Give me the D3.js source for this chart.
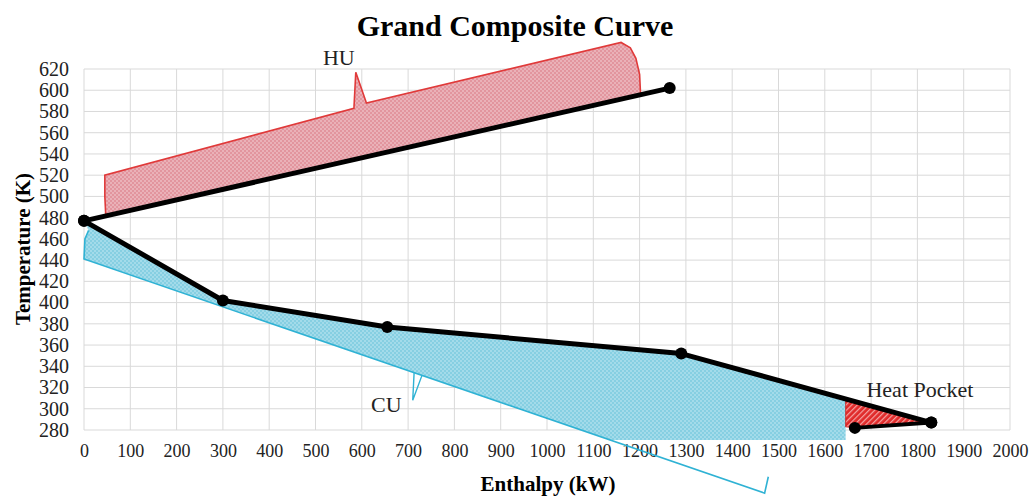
<!DOCTYPE html>
<html><head><meta charset="utf-8">
<script src="https://cdn.jsdelivr.net/npm/d3@7"></script>
<style>html,body{margin:0;padding:0;background:#fff;}svg{display:block;}</style>
</head><body>
<script>
// ---- data ----
const xTicks = [0,100,200,300,400,500,600,700,800,900,1000,1100,1200,1300,1400,1500,1600,1700,1800,1900,2000];
const yTicks = [280,300,320,340,360,380,400,420,440,460,480,500,520,540,560,580,600,620];
const gccEnthalpy = [0, 300, 655, 1290, 1830];
const gccTemp = [477, 402, 377, 352, 287];
const huEnthalpy = [0, 1265];
const huTemp = [477, 602];
const pocketEnthalpy = [1665, 1830];
const pocketTemp = [282, 287];
// HU brace outline (enthalpy, temperature)
const huBraceH = [1202, 1200, 1192, 1180, 1160, 610, 587, 583, 45, 45, 47];
const huBraceT = [597, 615, 630, 640, 645, 588, 617, 583, 520, 500, 482];
// CU brace outline
const cuBraceH = [10, 2, 0, 1470, 1478];
const cuBraceT = [468, 460, 441, 220.5, 236];
const cuSpikeH = [725, 710];
const cuSpikeT = [332, 308];
// heat pocket triangle
const hpH = [1645, 1645, 1665, 1830];
const hpT = [305, 283, 282, 287];
const labels = [
  {text:"HU", h:516, t:624},
  {text:"CU", h:620, t:297},
  {text:"Heat Pocket", h:1690, t:311}
];

// ---- layout ----
const W = 1035, H = 498;
const svg = d3.select("body").append("svg").attr("width", W).attr("height", H)
  .style("font-family", "'Liberation Serif','Times New Roman',serif");
const x = d3.scaleLinear().domain([0, 2000]).range([84, 1010]);
const y = d3.scaleLinear().domain([280, 620]).range([430, 69]);

const defs = svg.append("defs");
function dotPattern(id, bg, dot) {
  const p = defs.append("pattern").attr("id", id).attr("patternUnits", "userSpaceOnUse")
    .attr("width", 4).attr("height", 4);
  p.append("rect").attr("width", 4).attr("height", 4).attr("fill", bg);
  p.append("circle").attr("cx", 1).attr("cy", 1).attr("r", 0.8).attr("fill", dot);
  p.append("circle").attr("cx", 3).attr("cy", 3).attr("r", 0.8).attr("fill", dot);
}
dotPattern("huPat", "#e2959e", "#f6d6d9");
dotPattern("cuPat", "#86cfe2", "#c8ecf5");
const hp = defs.append("pattern").attr("id", "hpPat").attr("patternUnits", "userSpaceOnUse")
  .attr("width", 4).attr("height", 4).attr("patternTransform", "rotate(45)");
hp.append("rect").attr("width", 4).attr("height", 4).attr("fill", "#e02a2a");
hp.append("rect").attr("width", 1.2).attr("height", 4).attr("fill", "#f4a4a4");

// grid
const grid = svg.append("g");
grid.selectAll(".vx").data(xTicks).join("line")
  .attr("x1", d => x(d)).attr("x2", d => x(d)).attr("y1", y(280)).attr("y2", y(620))
  .attr("stroke", "#d9d9d9").attr("stroke-width", 1);
grid.selectAll(".hy").data(yTicks).join("line")
  .attr("x1", x(0)).attr("x2", x(2000)).attr("y1", d => y(d)).attr("y2", d => y(d))
  .attr("stroke", "#d9d9d9").attr("stroke-width", 1);

// axes tick labels
const xAxis = svg.append("g").attr("transform", `translate(0,${y(280)})`)
  .call(d3.axisBottom(x).tickValues(xTicks).tickSize(0).tickPadding(14).tickFormat(d3.format("d")));
xAxis.select(".domain").remove();
xAxis.selectAll("text").attr("font-size", 18).attr("fill", "#222")
  .style("font-family", "'Liberation Serif',serif");
const yAxis = svg.append("g").attr("transform", `translate(${x(0)},0)`)
  .call(d3.axisLeft(y).tickValues(yTicks).tickSize(0).tickPadding(15).tickFormat(d3.format("d")));
yAxis.select(".domain").remove();
yAxis.selectAll("text").attr("font-size", 20).attr("fill", "#222")
  .style("font-family", "'Liberation Serif',serif");

const pts = (hs, ts) => hs.map((h, i) => [h, ts[i]]);
const line = d3.line().x(d => x(d[0])).y(d => y(d[1]));

// CU fill: GCC line down to 1645, then bottom, then along the CU brace line
const cuBottomT = y.invert(440);
const cuSlope = (cuBraceT[3] - cuBraceT[2]) / (cuBraceH[3] - cuBraceH[2]);
const cuBottomH = (cuBottomT - cuBraceT[2]) / cuSlope;
const gccAt = h => {
  for (let i = 0; i < gccEnthalpy.length - 1; i++) {
    if (h >= gccEnthalpy[i] && h <= gccEnthalpy[i+1]) {
      const f = (h - gccEnthalpy[i]) / (gccEnthalpy[i+1] - gccEnthalpy[i]);
      return gccTemp[i] + f * (gccTemp[i+1] - gccTemp[i]);
    }
  }
  return gccTemp[gccTemp.length-1];
};
const cuFill = pts(gccEnthalpy.slice(0, 4), gccTemp.slice(0, 4))
  .concat([[hpH[0], gccAt(hpH[0])], [hpH[0], cuBottomT], [cuBottomH, cuBottomT],
           [cuBraceH[2], cuBraceT[2]], [cuBraceH[1], cuBraceT[1]], [cuBraceH[0], cuBraceT[0]]]);
svg.append("path").attr("d", line(cuFill) + "Z").attr("fill", "url(#cuPat)");
svg.append("path").attr("d", line(pts(cuBraceH, cuBraceT)))
  .attr("fill", "none").attr("stroke", "#2fb2d4").attr("stroke-width", 1.6);
const spikeBaseT = cuBraceT[2] + cuSlope * (cuSpikeH[0] + 12);
svg.append("path").attr("d", line([[cuSpikeH[0] - 12, cuBraceT[2] + cuSlope * (cuSpikeH[0] - 12)], [cuSpikeH[1], cuSpikeT[1]], [cuSpikeH[0] + 5, spikeBaseT + 1]]))
  .attr("fill", "none").attr("stroke", "#2fb2d4").attr("stroke-width", 1.4);

// HU fill: brace outline then back along HU line
const huLineAt = h => huTemp[0] + (huTemp[1] - huTemp[0]) * (h - huEnthalpy[0]) / (huEnthalpy[1] - huEnthalpy[0]);
const huOutline = pts(huBraceH, huBraceT);
const huFill = huOutline.concat([[huBraceH[huBraceH.length-1], huLineAt(huBraceH[huBraceH.length-1])],
                                 [huBraceH[0], huLineAt(huBraceH[0])]]);
svg.append("path").attr("d", line(huFill) + "Z").attr("fill", "url(#huPat)");
svg.append("path").attr("d", line(huOutline)).attr("fill", "none")
  .attr("stroke", "#e03a3a").attr("stroke-width", 1.6);

// heat pocket
const hpPoly = [[hpH[0], gccAt(hpH[0])]].concat(pts(hpH, hpT).slice(1));
svg.append("path").attr("d", line(hpPoly) + "Z").attr("fill", "url(#hpPat)")
  .attr("stroke", "#c01818").attr("stroke-width", 0.8);

// black lines
svg.append("path").attr("d", line(pts(gccEnthalpy, gccTemp))).attr("fill", "none")
  .attr("stroke", "#000").attr("stroke-width", 5).attr("stroke-linejoin", "round");
svg.append("path").attr("d", line(pts(huEnthalpy, huTemp))).attr("fill", "none")
  .attr("stroke", "#000").attr("stroke-width", 5);
svg.append("path").attr("d", line(pts(pocketEnthalpy, pocketTemp))).attr("fill", "none")
  .attr("stroke", "#000").attr("stroke-width", 4);

const dots = pts(gccEnthalpy, gccTemp).concat(pts(huEnthalpy, huTemp), pts(pocketEnthalpy, pocketTemp));
svg.selectAll(".dot").data(dots).join("circle")
  .attr("cx", d => x(d[0])).attr("cy", d => y(d[1])).attr("r", 6).attr("fill", "#000");

// annotation labels
svg.selectAll(".lbl").data(labels).join("text")
  .attr("x", d => x(d.h)).attr("y", d => y(d.t)).attr("font-size", 22).attr("fill", "#222")
  .text(d => d.text);

// titles
svg.append("text").attr("x", 515).attr("y", 36).attr("text-anchor", "middle")
  .attr("font-size", 30).attr("font-weight", "bold").text("Grand Composite Curve");
svg.append("text").attr("x", 548).attr("y", 491).attr("text-anchor", "middle")
  .attr("font-size", 21).attr("font-weight", "bold").text("Enthalpy (kW)");
svg.append("text").attr("transform", "translate(30,249) rotate(-90)").attr("text-anchor", "middle")
  .attr("font-size", 21).attr("font-weight", "bold").text("Temperature (K)");
</script>
</body></html>
